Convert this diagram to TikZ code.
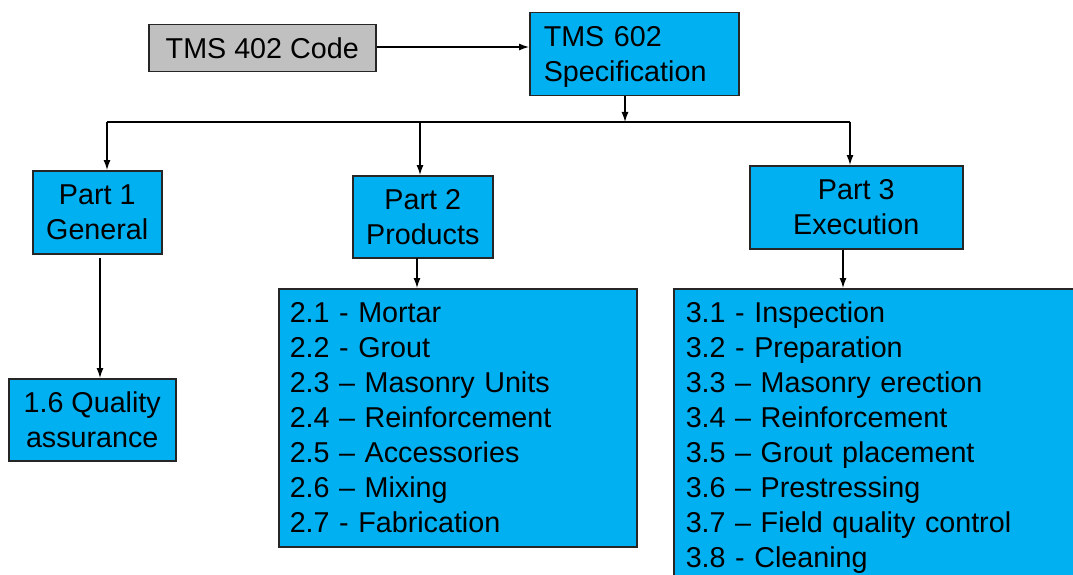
\documentclass[tikz,border=0pt]{standalone}
\usepackage{fontspec}
\setmainfont{Liberation Sans}
\usetikzlibrary{arrows.meta}
\definecolor{boxblue}{HTML}{00B0F0}
\definecolor{boxgray}{HTML}{C0C0C0}
\begin{document}
\begin{tikzpicture}[x=1pt,y=-1pt,
  font=\fontsize{28.7}{35}\selectfont,
  box/.style={draw=black!85,line width=1.5pt,fill=boxblue,anchor=north west,inner sep=0pt,align=center},
  conn/.style={line width=1.3pt,-{Latex[length=10pt,width=7pt]}},
  plain/.style={line width=1.3pt}]
\clip (0,0) rectangle (1073,575);
\fill[white] (0,0) rectangle (1073,575);
\node[box,fill=boxgray,minimum width=227pt,minimum height=47pt] (code) at (148,24) {TMS 402 Code};
\node[box,minimum width=209pt,minimum height=83pt,inner xsep=14pt,text width=181pt,align=left] (spec) at (529,12) {\rule{0pt}{26pt}TMS 602\\Specification};
\node[box,minimum width=129pt,minimum height=83pt] (p1) at (32,170) {Part 1\\General};
\node[box,minimum width=140pt,minimum height=82pt] (p2) at (352,175) {Part 2\\Products};
\node[box,minimum width=213pt,minimum height=83pt] (p3) at (749,165) {Part 3\\Execution};
\node[box,minimum width=167pt,minimum height=82pt] (qa) at (8,378) {1.6 Quality\\assurance};
\node[box,minimum width=358pt,minimum height=258pt,inner xsep=11pt,text width=336pt,align=left] (l2) at (278,288) {2.1 - Mortar\\2.2 - Grout\\2.3 – Masonry Units\\2.4 – Reinforcement\\2.5 – Accessories\\2.6 – Mixing\\2.7 - Fabrication};
\node[box,minimum width=420pt,minimum height=298pt,inner xsep=12pt,text width=396pt,align=left] (l3) at (673,288) {3.1 - Inspection\\3.2 - Preparation\\3.3 – Masonry erection\\3.4 – Reinforcement\\3.5 – Grout placement\\3.6 – Prestressing\\3.7 – Field quality control\\3.8 - Cleaning};
\coordinate (bus) at (625,122);
\coordinate (busL) at (107,122);
\coordinate (busR) at (850,122);
\coordinate (c2) at (420,122);
\coordinate (d1) at (100,258);
\coordinate (d2) at (417,258);
\coordinate (d3) at (843,250);
\draw[conn] (code.east |- 0,47) -- (spec.west |- 0,47);
\draw[conn] (spec.south -| bus) -- (bus);
\draw[plain] (busL) -- (busR);
\draw[conn] (busL) -- (busL |- p1.north);
\draw[conn] (c2) -- (c2 |- p2.north);
\draw[conn] (busR) -- (busR |- p3.north);
\draw[conn] (d1) -- (d1 |- qa.north);
\draw[conn] (d2) -- (d2 |- l2.north);
\draw[conn] (d3) -- (d3 |- l3.north);
\end{tikzpicture}
\end{document}
